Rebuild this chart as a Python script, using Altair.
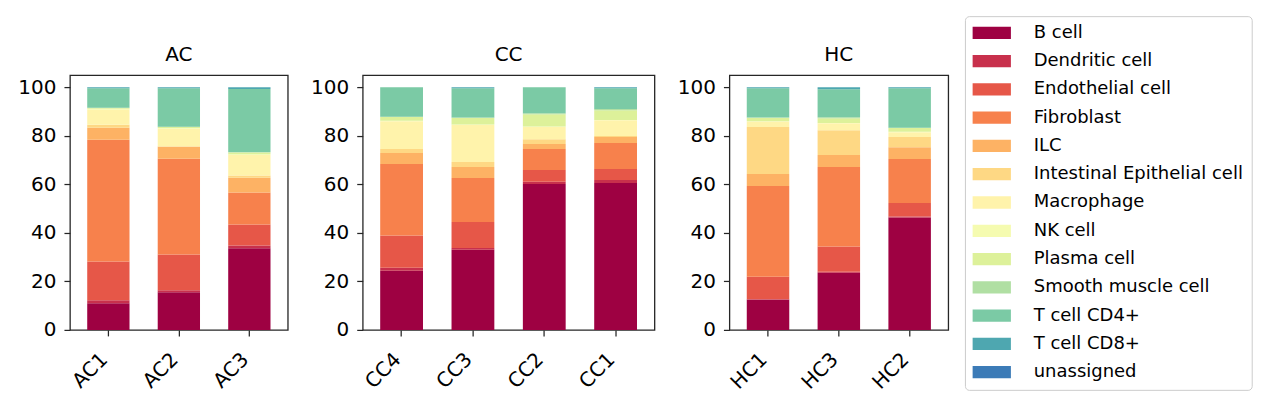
import altair as alt
import pandas as pd

# ---- data ----
samples = ["AC1", "AC2", "AC3", "CC4", "CC3", "CC2", "CC1", "HC1", "HC3", "HC2"]
groups = ["AC", "AC", "AC", "CC", "CC", "CC", "CC", "HC", "HC", "HC"]
panel_names = ["AC", "CC", "HC"]

cell_types = [
    "B cell", "Dendritic cell", "Endothelial cell", "Fibroblast", "ILC",
    "Intestinal Epithelial cell", "Macrophage", "NK cell", "Plasma cell",
    "Smooth muscle cell", "T cell CD4+", "T cell CD8+", "unassigned",
]
colors = [
    "#9e0142", "#c8304c", "#e65748", "#f7814c", "#fdb264", "#fed884",
    "#fff3ab", "#f5fbb0", "#ddf19a", "#b0dfa3", "#7bcaa5", "#4ea7b0", "#3c7bb7",
]

# percentages per cell type, in the order of `samples`
b_cell       = [11.0, 15.5, 33.6, 24.4, 33.0, 60.1, 60.5, 12.5, 23.6, 46.3]
dendritic    = [1.2, 0.8, 1.2, 1.2, 0.8, 0.9, 1.3, 0.1, 0.4, 0.4]
endothelial  = [16.0, 14.8, 8.6, 13.3, 10.7, 4.9, 4.5, 9.3, 10.4, 5.6]
fibroblast   = [50.2, 39.4, 13.2, 29.5, 18.1, 8.6, 10.7, 37.4, 32.7, 18.1]
ilc          = [4.9, 5.0, 6.1, 4.5, 4.5, 2.1, 2.5, 4.9, 5.0, 4.9]
intestinal   = [1.2, 0.2, 0.9, 1.6, 2.1, 2.0, 0.4, 19.4, 10.2, 4.2]
macrophage   = [6.2, 7.2, 8.5, 11.5, 15.2, 5.0, 6.5, 2.3, 2.9, 2.0]
nk_cell      = [0.4, 0.3, 0.3, 0.2, 0.2, 0.2, 0.1, 0.1, 0.1, 0.2]
plasma       = [0.3, 0.4, 0.7, 1.5, 2.7, 5.1, 4.0, 1.4, 1.9, 1.5]
smooth       = [0.1, 0.1, 0.2, 0.1, 0.2, 0.4, 0.5, 0.1, 0.4, 0.1]
t_cd4        = [8.1, 15.9, 26.0, 12.2, 12.1, 10.7, 8.6, 12.1, 11.6, 16.3]
t_cd8        = [0.4, 0.4, 0.7, 0.0, 0.4, 0.0, 0.4, 0.4, 0.8, 0.4]
unassigned   = [0.0, 0.0, 0.0, 0.0, 0.0, 0.0, 0.0, 0.0, 0.0, 0.0]

series = [b_cell, dendritic, endothelial, fibroblast, ilc, intestinal,
          macrophage, nk_cell, plasma, smooth, t_cd4, t_cd8, unassigned]

rows = []
for ci, (ct, vals) in enumerate(zip(cell_types, series)):
    for s, g, v in zip(samples, groups, vals):
        rows.append({"sample": s, "group": g, "celltype": ct, "order": ci, "pct": v})
df = pd.DataFrame(rows)

FONT = "DejaVu Sans"
panel_widths = {"AC": 218, "CC": 292, "HC": 219}

legend = alt.Legend(
    orient="none",
    legendX=895.7,
    legendY=-59,
    symbolType="M-2.128,-0.683L2.128,-0.683L2.128,0.683L-2.128,0.683Z",
    symbolSize=324,
    symbolStrokeWidth=0,
    symbolOffset=10.15,
    labelOffset=33,
    labelFontSize=18,
    labelFont=FONT,
    labelColor="black",
    labelLimit=400,
    rowPadding=10.3,
    padding=7.7,
    strokeColor="#cccccc",
    fillColor="white",
    cornerRadius=4,
)


def panel(name):
    sub = df[df["group"] == name]
    order = [s for s, g in zip(samples, groups) if g == name]
    return (
        alt.Chart(sub)
        .mark_bar()
        .encode(
            x=alt.X(
                "sample:N",
                sort=order,
                title=None,
                scale=alt.Scale(paddingInner=0.4, paddingOuter=0.245),
                axis=alt.Axis(
                    labelAngle=-45, labelAlign="right", labelBaseline="top",
                    labelOffset=-11, labelPadding=13, tickSize=6, domain=False,
                    labelFontSize=20,
                ),
            ),
            y=alt.Y(
                "pct:Q",
                stack="zero",
                title=None,
                scale=alt.Scale(domain=[0, 105], nice=False),
                axis=alt.Axis(values=[0, 20, 40, 60, 80, 100], tickSize=6,
                              labelPadding=8, domain=False, grid=False,
                              labelFontSize=20),
            ),
            color=alt.Color(
                "celltype:N",
                title=None,
                scale=alt.Scale(domain=cell_types, range=colors),
                legend=legend,
            ),
            order=alt.Order("order:Q", sort="ascending"),
        )
        .properties(
            width=panel_widths[name],
            height=255,
            title=alt.TitleParams(text=name, fontSize=20, font=FONT,
                                  fontWeight="normal", color="black",
                                  frame="group", anchor="middle", offset=10),
        )
    )


chart = (
    alt.hconcat(*[panel(n) for n in panel_names], spacing=21)
    .properties(padding={"left": 9, "top": 7, "right": 5, "bottom": 5})
    .configure(font=FONT)
    .configure_view(stroke="#262626", strokeWidth=1.3)
    .configure_axis(labelColor="black", tickColor="#262626", tickWidth=1.25,
                    labelFont=FONT, grid=False)
)

chart.save("out.html", embed_options={"renderer": "svg", "actions": False})
